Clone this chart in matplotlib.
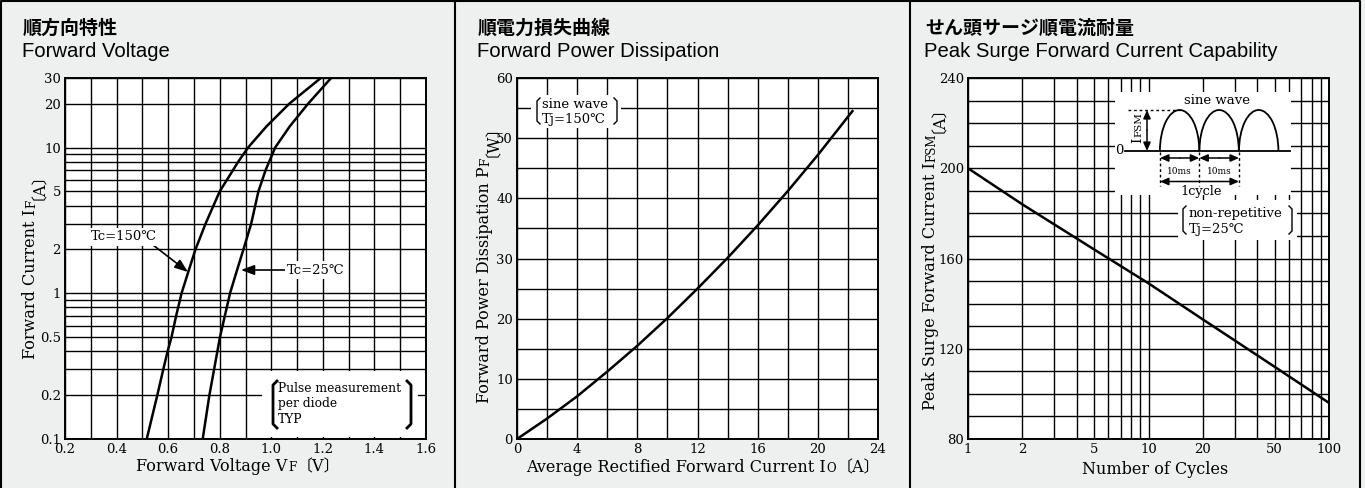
import matplotlib
matplotlib.use('Agg')
import matplotlib.pyplot as plt
from matplotlib.ticker import FixedLocator, NullFormatter
from matplotlib.patches import Rectangle, Arc, FancyArrowPatch
from matplotlib.lines import Line2D

W, H = 1365, 488

# ---- data ----
fv150_current = [0.1, 0.2, 0.3, 0.4, 0.5, 0.7, 1, 1.4, 2, 3, 5, 8, 10, 14, 20, 30]
fv150_voltage = [0.517, 0.558, 0.581, 0.598, 0.613, 0.631, 0.652, 0.678, 0.706, 0.745,
                 0.800, 0.872, 0.910, 0.982, 1.070, 1.192]
fv25_current = [0.1, 0.2, 0.5, 1, 1.4, 2, 3, 5, 7, 10, 14, 20, 30]
fv25_voltage = [0.734, 0.760, 0.801, 0.840, 0.865, 0.892, 0.922, 0.950, 0.978, 1.015,
                1.072, 1.143, 1.232]

pd_current = [0, 2, 4, 6, 8, 10, 12, 14, 16, 18, 20, 22.3]
pd_power = [0, 3.4, 7.1, 11.2, 15.5, 20.1, 25.0, 30.1, 35.5, 41.2, 47.2, 54.5]

surge_cycles = [1, 2, 5, 10, 20, 50, 100]
surge_current = [200, 184, 164, 149, 133, 112, 96]

fv_xticks = [0.2, 0.4, 0.6, 0.8, 1.0, 1.2, 1.4, 1.6]
fv_xgrid = [0.3, 0.5, 0.7, 0.9, 1.1, 1.3, 1.5]
fv_yticks = [0.1, 0.2, 0.5, 1, 2, 5, 10, 20, 30]
fv_ygrid = [0.3, 0.4, 0.6, 0.7, 0.8, 0.9, 3, 4, 6, 7, 8, 9]
pd_xticks = [0, 4, 8, 12, 16, 20, 24]
pd_xgrid = [2, 6, 10, 14, 18, 22]
pd_yticks = [0, 10, 20, 30, 40, 50, 60]
pd_ygrid = [5, 15, 25, 35, 45, 55]
surge_xticks = [1, 2, 5, 10, 20, 50, 100]
surge_xgrid = [3, 4, 6, 7, 8, 9, 30, 40, 60, 70, 80, 90]
surge_yticks = [80, 120, 160, 200, 240]
surge_ygrid = [90, 100, 110, 130, 140, 150, 170, 180, 190, 210, 220, 230]

SERIF = ['DejaVu Serif', 'Noto Sans CJK JP']
JP = ['Noto Sans CJK JP']
EN = ['Liberation Sans']
BG = '#eef0ef'

plt.rcParams['font.family'] = SERIF

fig = plt.figure(figsize=(W / 100, H / 100), dpi=100, facecolor=BG)
renderer = fig.canvas.get_renderer()


def fx(x):
    return x / W


def fy(y):
    return 1 - y / H


def make_axes(left, top, right, bottom):
    ax = fig.add_axes([fx(left), fy(bottom), (right - left) / W, (bottom - top) / H])
    ax.set_facecolor('white')
    for s in ax.spines.values():
        s.set_linewidth(1.4)
    ax.tick_params(which='both', length=0, pad=3, labelsize=9.5)
    ax.set_axisbelow(True)
    ax.grid(which='both', color='black', lw=1.0)
    return ax


def rich(x, y, parts, rotation=0, ha='center'):
    # text made of pieces of different size; x/y = baseline pixel position
    texts, widths = [], []
    for s, size in parts:
        t = fig.text(0, 0, s, fontsize=size, family=SERIF, ha='left', va='baseline')
        widths.append(t.get_window_extent(renderer).width)
        texts.append(t)
    pos = -sum(widths) / 2 if ha == 'center' else 0
    for t, w in zip(texts, widths):
        if rotation == 90:
            t.set_position((fx(x), fy(y - pos)))
            t.set_rotation(90)
            t.set_rotation_mode('anchor')
        else:
            t.set_position((fx(x + pos), fy(y)))
        pos += w + 0.5


def white_box(ax, x0, y0, x1, y1):
    ax.add_patch(Rectangle((fx(x0), fy(y1)), (x1 - x0) / W, (y1 - y0) / H,
                           transform=fig.transFigure, facecolor='white',
                           edgecolor='none', zorder=1.5))


def bracket(x, y0, y1, side, lw=1.0, hook=4):
    d = hook if side == 'left' else -hook
    fig.add_artist(Line2D([fx(x + d), fx(x), fx(x), fx(x + d)],
                          [fy(y0), fy(y0 + hook), fy(y1 - hook), fy(y1)],
                          transform=fig.transFigure, color='black', lw=lw))


def fig_line(xs, ys, **kw):
    fig.add_artist(Line2D([fx(v) for v in xs], [fy(v) for v in ys],
                          transform=fig.transFigure, color='black', **kw))


def arrow(x0, y0, x1, y1, hl=5, hw=2.2, lw=1.1):
    fig.add_artist(FancyArrowPatch(
        (x0, H - y0), (x1, H - y1), transform=None,
        arrowstyle='-|>,head_length=%g,head_width=%g' % (hl, hw),
        color='black', lw=lw, shrinkA=0, shrinkB=0))


# ---- frame and dividers ----
fig_line([1, 1, 1360, 1360], [488, 1, 1, 488], lw=1.5)
fig_line([455, 455], [0, 488], lw=1.5)
fig_line([910, 910], [0, 488], lw=1.5)

# ---- titles ----
for x, jp, en in [(23, '順方向特性', 'Forward Voltage'),
                  (478, '順電力損失曲線', 'Forward Power Dissipation'),
                  (925, 'せん頭サージ順電流耐量', 'Peak Surge Forward Current Capability')]:
    fig.text(fx(x), fy(34), jp, fontsize=13.7, family=JP, fontweight='bold', va='baseline')
    fig.text(fx(x - 1), fy(57), en, fontsize=14.6, family=EN, va='baseline')

# ---- panel 1: forward voltage ----
ax1 = make_axes(65, 78, 426, 439)
ax1.set_yscale('log')
ax1.plot(fv150_voltage, fv150_current, color='black', lw=1.8, zorder=3)
ax1.plot(fv25_voltage, fv25_current, color='black', lw=1.8, zorder=3)
ax1.set_xlim(0.2, 1.6)
ax1.set_ylim(0.1, 30)
ax1.xaxis.set_major_locator(FixedLocator(fv_xticks))
ax1.xaxis.set_minor_locator(FixedLocator(fv_xgrid))
ax1.set_xticklabels(['%.1f' % v for v in fv_xticks])
ax1.yaxis.set_major_locator(FixedLocator(fv_yticks))
ax1.yaxis.set_minor_locator(FixedLocator(fv_ygrid))
ax1.yaxis.set_minor_formatter(NullFormatter())
ax1.set_yticklabels([('%g' % v) for v in fv_yticks])

rich(238, 471, [('Forward Voltage V', 11.5), ('F', 8.5), ('〔V〕', 11.5)])
rich(35, 258, [('Forward Current I', 11.5), ('F', 8.5), ('〔A〕', 11.5)], rotation=90)

white_box(ax1, 262, 371, 418, 437)
bracket(273, 381, 428, 'left', lw=2.0)
bracket(411, 381, 428, 'right', lw=2.0)
for i, s in enumerate(['Pulse measurement', 'per diode', 'TYP']):
    fig.text(fx(278), fy(392 + 15.5 * i), s, fontsize=8.8, va='baseline')

fig.text(fx(124), fy(237), 'Tc=150℃', fontsize=9.5, ha='center', va='center',
         bbox=dict(facecolor='white', edgecolor='none', pad=1.5), zorder=4)
arrow(153, 245, 188, 272, hl=8, hw=3, lw=1.2)
fig.text(fx(316), fy(270), 'Tc=25℃', fontsize=9.5, ha='center', va='center',
         bbox=dict(facecolor='white', edgecolor='none', pad=1.5), zorder=4)
arrow(285, 270, 241, 270, hl=8, hw=3, lw=1.2)

# ---- panel 2: forward power dissipation ----
ax2 = make_axes(517, 78, 878, 439)
ax2.plot(pd_current, pd_power, color='black', lw=1.8, zorder=3)
ax2.set_xlim(0, 24)
ax2.set_ylim(0, 60)
ax2.xaxis.set_major_locator(FixedLocator(pd_xticks))
ax2.xaxis.set_minor_locator(FixedLocator(pd_xgrid))
ax2.yaxis.set_major_locator(FixedLocator(pd_yticks))
ax2.yaxis.set_minor_locator(FixedLocator(pd_ygrid))

rich(703, 472, [('Average Rectified Forward Current I', 11.5), ('O', 8.5), ('〔A〕', 11.5)])
rich(489, 256, [('Forward Power Dissipation P', 11.5), ('F', 8.5), ('〔W〕', 11.5)],
     rotation=90)

white_box(ax2, 531, 95, 621, 128)
bracket(537, 98, 124, 'left', lw=1.0, hook=3)
bracket(617, 98, 124, 'right', lw=1.0, hook=3)
fig.text(fx(542), fy(108), 'sine wave', fontsize=9.5, va='baseline')
fig.text(fx(542), fy(123), 'Tj=150℃', fontsize=9.5, va='baseline')

# ---- panel 3: peak surge forward current ----
ax3 = make_axes(968, 78, 1329, 439)
ax3.set_xscale('log')
ax3.plot(surge_cycles, surge_current, color='black', lw=1.8, zorder=3)
ax3.set_xlim(1, 100)
ax3.set_ylim(80, 240)
ax3.xaxis.set_major_locator(FixedLocator(surge_xticks))
ax3.xaxis.set_minor_locator(FixedLocator(surge_xgrid))
ax3.xaxis.set_minor_formatter(NullFormatter())
ax3.set_xticklabels(['%d' % v for v in surge_xticks])
ax3.yaxis.set_major_locator(FixedLocator(surge_yticks))
ax3.yaxis.set_minor_locator(FixedLocator(surge_ygrid))

rich(1155, 474, [('Number of Cycles', 11.5)])
rich(935, 250, [('Peak Surge Forward Current I', 11.5), ('FSM', 8.5), ('〔A〕', 11.5)],
     rotation=90)

# inset: sine wave sketch
white_box(ax3, 1115, 92, 1291, 195)
white_box(ax3, 1178, 200, 1297, 240)
fig_line([1125, 1290], [151, 151], lw=1.3)
for cx in [1179.6, 1219.1, 1258.7]:
    fig.add_artist(Arc((fx(cx), fy(151)), 39.4 / W, 82 / H, theta1=0, theta2=180,
                       transform=fig.transFigure, color='black', lw=1.3))
fig_line([1128, 1179.6], [110, 110], lw=1.0, ls=(0, (2, 2)))
arrow(1147, 130, 1147, 110)
arrow(1147, 130, 1147, 151)
rich(1141, 128, [('I', 9.5), ('FSM', 7.5)], rotation=90)
fig.text(fx(1124), fy(151), '0', fontsize=9.5, ha='right', va='center')
for x in [1160, 1199.3, 1239]:
    fig_line([x, x], [152, 186], lw=1.0, ls=(0, (2, 2)))
for x0, x1 in [(1160, 1199.3), (1199.3, 1239)]:
    arrow((x0 + x1) / 2, 158, x0, 158)
    arrow((x0 + x1) / 2, 158, x1, 158)
    fig.text(fx((x0 + x1) / 2), fy(171), '10ms', fontsize=6.5, ha='center', va='center')
arrow(1200, 181.5, 1160, 181.5)
arrow(1200, 181.5, 1239, 181.5)
fig.text(fx(1201), fy(192), '1cycle', fontsize=9.3, ha='center', va='center')
fig.text(fx(1217), fy(100), 'sine wave', fontsize=9.5, ha='center', va='center')

bracket(1183, 206, 234, 'left', lw=1.0, hook=3)
bracket(1292, 206, 234, 'right', lw=1.0, hook=3)
fig.text(fx(1189), fy(217), 'non-repetitive', fontsize=9.5, va='baseline')
fig.text(fx(1189), fy(233), 'Tj=25℃', fontsize=9.5, va='baseline')

fig.savefig('out.png', dpi=100, facecolor=BG)
